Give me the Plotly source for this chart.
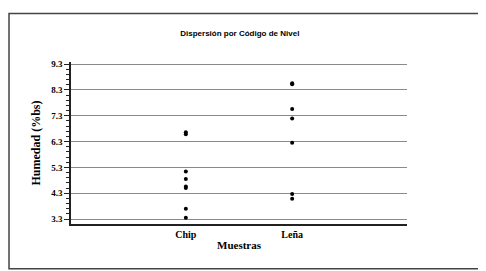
import plotly.graph_objects as go

chip_vals = [6.66, 6.58, 5.14, 4.85, 4.56, 4.50, 3.70, 3.35]
lena_vals = [8.56, 8.52, 7.56, 7.19, 6.25, 4.27, 4.09]
categories = ["Chip", "Leña"]
tick_vals = [3.3, 4.3, 5.3, 6.3, 7.3, 8.3, 9.3]
tick_text = ["3.3", "4.3", "5.3", "6.3", "7.3", "8.3", "9.3"]

serif = "Liberation Serif"

fig = go.Figure()
fig.add_trace(go.Scatter(
    x=[0] * len(chip_vals), y=chip_vals, mode="markers",
    marker=dict(color="black", size=4), showlegend=False))
fig.add_trace(go.Scatter(
    x=[1] * len(lena_vals), y=lena_vals, mode="markers",
    marker=dict(color="black", size=4), showlegend=False))

fig.update_layout(
    width=478, height=263,
    margin=dict(l=63, r=79, t=54, b=47, autoexpand=False),
    paper_bgcolor="white", plot_bgcolor="white",
    title=dict(text="<b>Dispersión por Código de Nivel</b>",
               font=dict(family="Liberation Sans", size=8, color="black"),
               x=0.485, xanchor="center", y=0.905, yanchor="middle"),
    xaxis=dict(
        range=[-1.08, 2.08], tickmode="array", tickvals=[0, 1],
        ticktext=["<b>" + c + "</b>" for c in categories],
        showgrid=False, zeroline=False, showline=True, automargin=False,
        linecolor="#222", linewidth=2, ticks="",
        tickfont=dict(family=serif, size=10, color="black"),
        title=dict(text="<b>Muestras</b>", standoff=2,
                   font=dict(family=serif, size=11, color="black")),
    ),
    yaxis=dict(
        range=[3.11, 9.38], tickmode="array", tickvals=tick_vals,
        ticktext=["<b>" + t + "</b>" for t in tick_text],
        showgrid=True, gridcolor="#8a8a8a", gridwidth=1.2, automargin=False,
        zeroline=False, showline=True, linecolor="#222", linewidth=1.5,
        ticks="outside", ticklen=5, tickcolor="#222", tickwidth=1,
        minor=dict(dtick=0.2, tick0=3.3, ticks="outside", ticklen=3,
                   tickcolor="#222", showgrid=False),
        tickfont=dict(family=serif, size=9, color="black"),
        title=dict(text="<b>Humedad (%bs)</b>", standoff=8,
                   font=dict(family=serif, size=12, color="black")),
    ),
    shapes=[dict(type="rect", xref="paper", yref="paper",
                 x0=-0.1845, x1=1.25, y0=-0.276, y1=1.30,
                 line=dict(color="#444", width=1.5), fillcolor="rgba(0,0,0,0)",
                 layer="above")],
)

fig.write_html("out.html")
